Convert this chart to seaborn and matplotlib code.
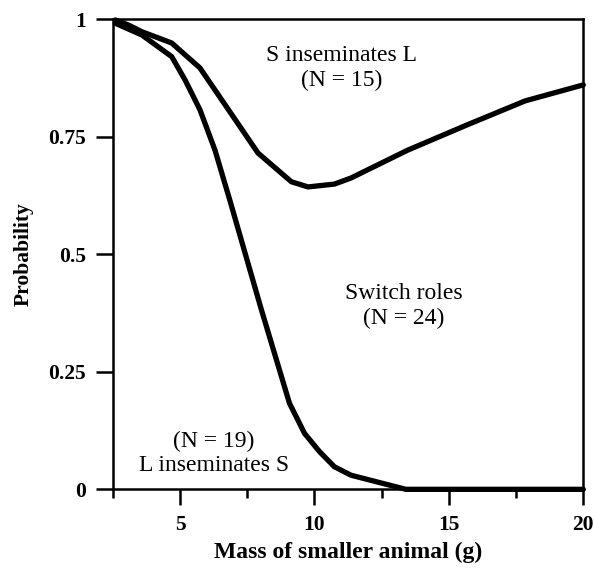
import matplotlib
matplotlib.use("Agg")
import matplotlib.pyplot as plt
import seaborn as sns
import pandas as pd

# Curve: boundary above which S inseminates L
upper_mass = [2.59, 3.09, 3.58, 4.69, 5.74, 7.90, 9.14, 9.76, 10.74, 11.36, 13.46, 15.68, 17.84, 20.0]
upper_prob = [0.998, 0.987, 0.973, 0.949, 0.896, 0.715, 0.654, 0.643, 0.649, 0.662, 0.721, 0.775, 0.826, 0.860]

# Curve below which L inseminates S
lower_mass = [2.59, 3.58, 4.69, 5.19, 5.74, 6.30, 6.85, 8.03, 9.07, 9.63, 10.19, 10.74, 11.36, 13.40, 20.0]
lower_prob = [0.991, 0.966, 0.920, 0.870, 0.807, 0.721, 0.615, 0.381, 0.183, 0.119, 0.080, 0.048, 0.030, 0.0, 0.0]

x_major = [5, 10, 15, 20]
x_minor = [2.5, 7.5, 12.5, 17.5]
y_ticks = [0, 0.25, 0.5, 0.75, 1]
y_labels = ["0", "0.25", "0.5", "0.75", "1"]

df = pd.concat([
    pd.DataFrame({"mass": upper_mass, "prob": upper_prob, "curve": "upper"}),
    pd.DataFrame({"mass": lower_mass, "prob": lower_prob, "curve": "lower"}),
])

sns.set_style("ticks")
plt.rcParams["font.family"] = ["Liberation Serif", "DejaVu Serif"]
plt.rcParams["text.color"] = "black"
plt.rcParams["axes.labelcolor"] = "black"

fig = plt.figure(figsize=(5.94, 5.68), dpi=100)
ax = fig.add_axes([0.190, 0.1385, 0.792, 0.828])

sns.lineplot(data=df, x="mass", y="prob", hue="curve", palette=["black", "black"],
             sort=False, linewidth=3.8, legend=False, ax=ax, clip_on=False)

ax.set_xlim(2.5, 20)
ax.set_ylim(0, 1)
ax.set_xticks(x_major)
ax.set_xticks(x_minor, minor=True)
ax.set_yticks(y_ticks)
ax.set_yticklabels(y_labels)

for side in ["left", "right", "top", "bottom"]:
    ax.spines[side].set_linewidth(1.8)
    ax.spines[side].set_color("black")

ax.tick_params(axis="x", which="major", length=11.5, width=1.8, direction="out",
               labelsize=15.5, pad=7, colors="black")
ax.tick_params(axis="x", which="minor", length=6.5, width=1.8, direction="out", colors="black")
ax.tick_params(axis="y", which="major", length=12.5, width=1.8, direction="out",
               labelsize=15.5, pad=7, colors="black")
for lab in ax.get_xticklabels() + ax.get_yticklabels():
    lab.set_fontweight("bold")

ax.set_xlabel("Mass of smaller animal (g)", fontsize=17, fontweight="bold", labelpad=5)
ax.set_ylabel("Probability", fontsize=15.5, fontweight="bold", labelpad=10)

ax.text(11.0, 0.896, "S inseminates L\n(N = 15)", ha="center", va="center",
        fontsize=17, linespacing=1.2)
ax.text(13.32, 0.39, "Switch roles\n(N = 24)", ha="center", va="center",
        fontsize=17, linespacing=1.2)
ax.text(6.26, 0.077, "(N = 19)\nL inseminates S", ha="center", va="center",
        fontsize=17, linespacing=1.2)

fig.savefig("out.png", dpi=100)
plt.close(fig)
